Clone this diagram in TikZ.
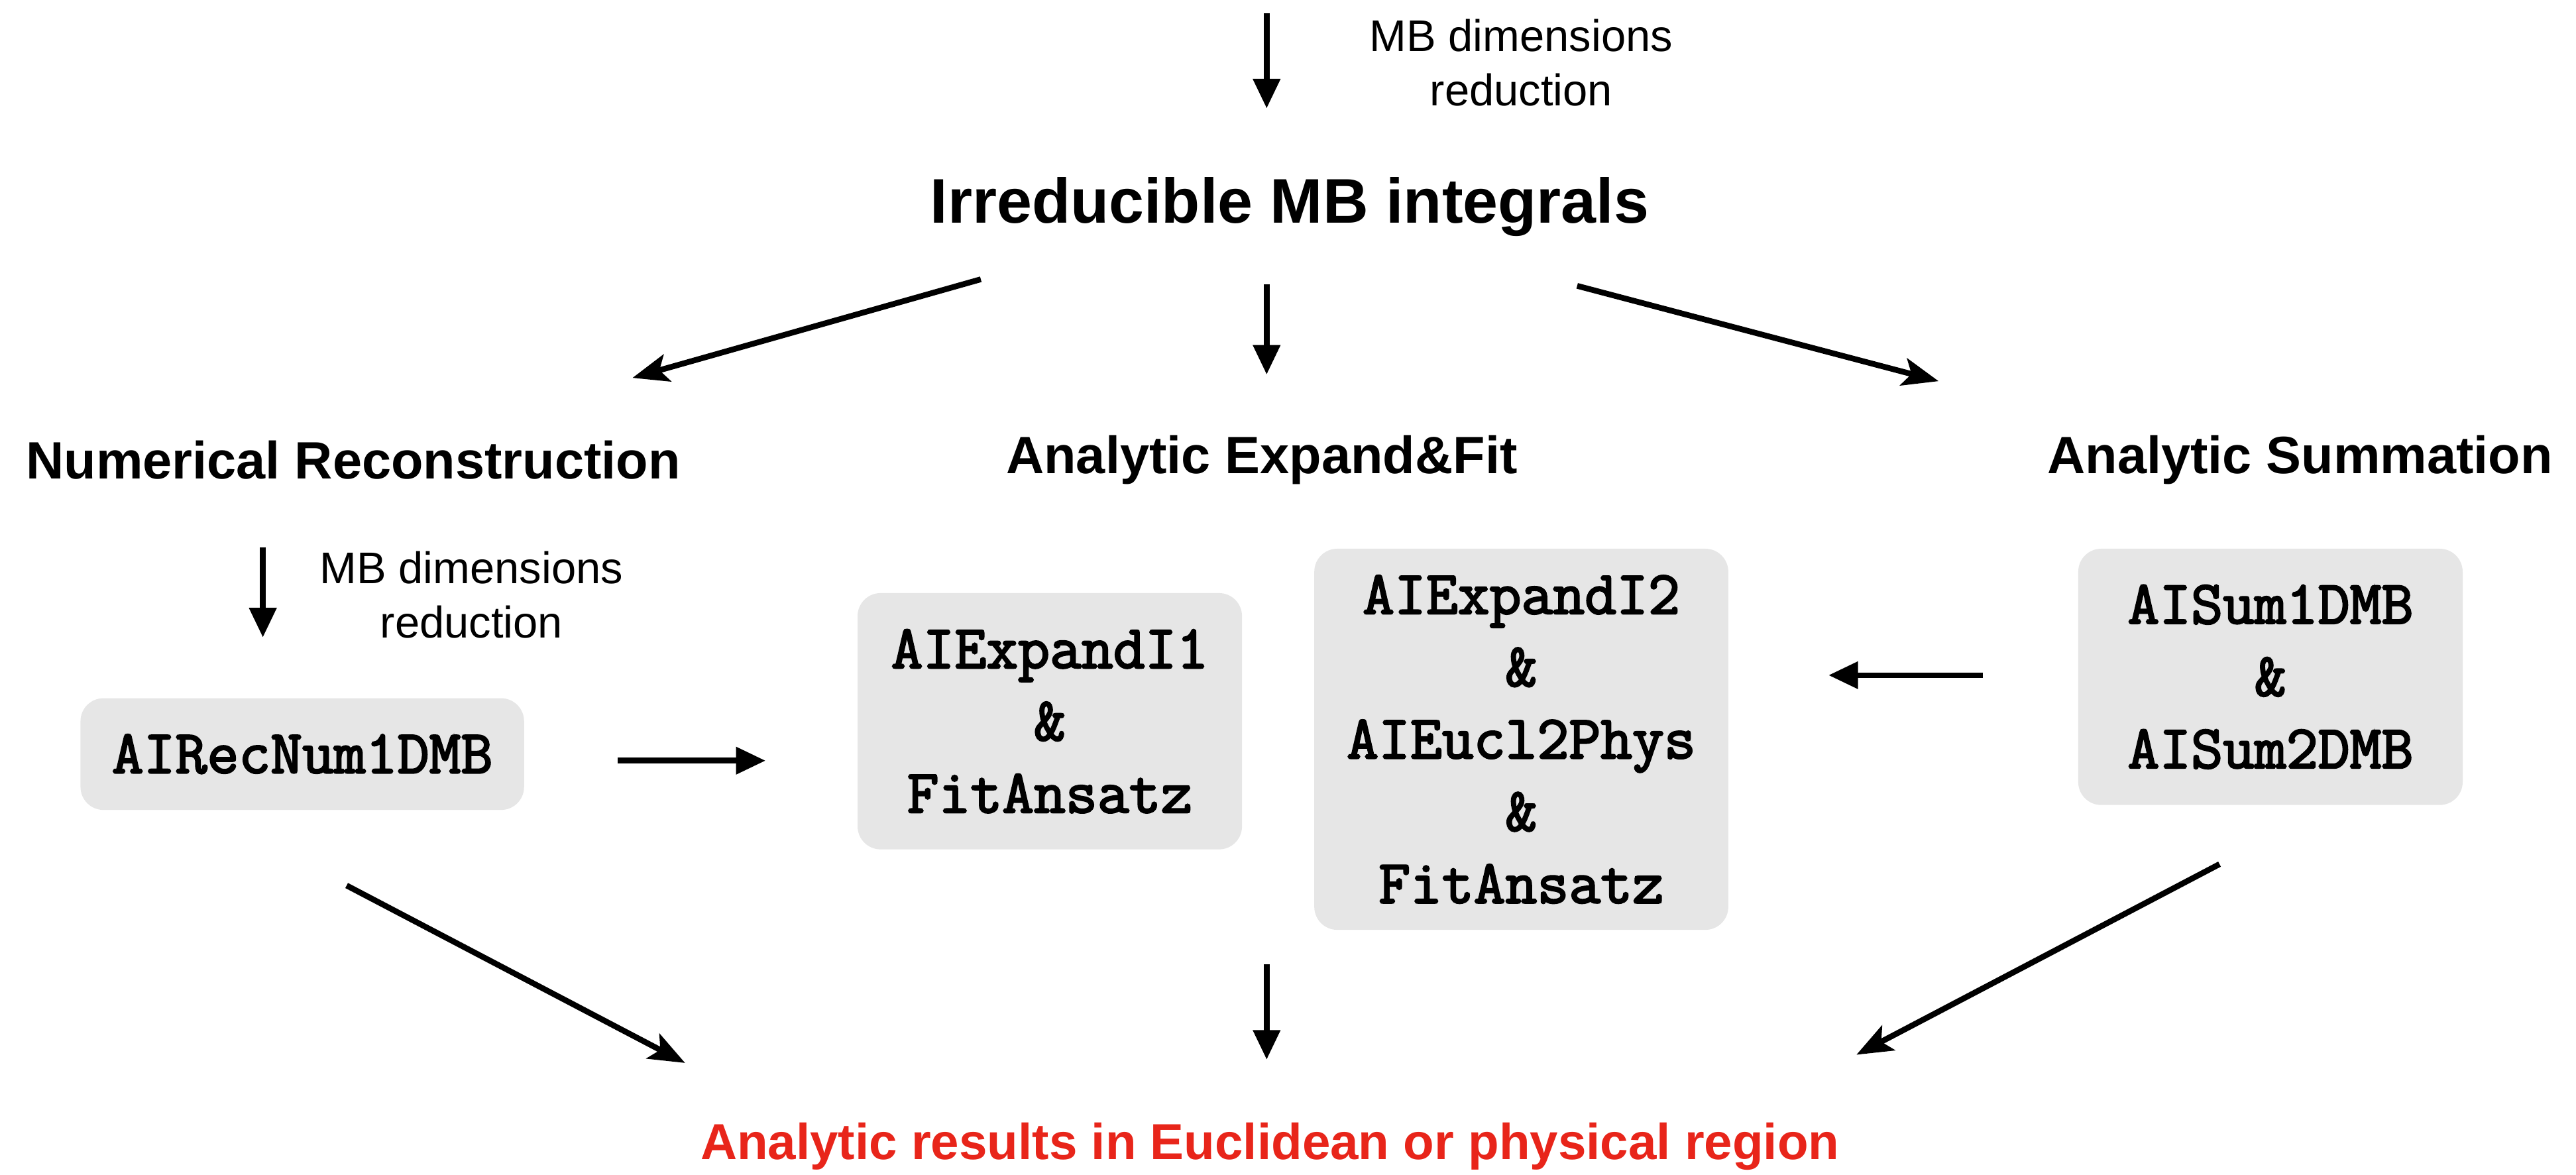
\documentclass[tikz,border=0pt]{standalone}
\usepackage{fontspec}
\setmainfont{Liberation Sans}
\setmonofont[AutoFakeBold=2.8]{Latin Modern Mono}
\usetikzlibrary{arrows.meta}
\definecolor{boxgray}{RGB}{230,230,230}
\definecolor{resred}{RGB}{232,37,26}
\begin{document}
\begin{tikzpicture}[x=1pt,y=-1pt,
  arr/.style={line width=3.5pt,-{Triangle[length=18pt,width=16pt]}},
  darr/.style={line width=3.5pt,-{Stealth[length=22pt,width=17pt,inset=5pt]}},
  codebox/.style={fill=boxgray,rounded corners=14pt,align=center,font=\ttfamily\bfseries\fontsize{37.5}{44}\selectfont,inner sep=0pt},
  head/.style={font=\bfseries\fontsize{32}{38}\selectfont},
  note/.style={align=center,font=\fontsize{27}{33}\selectfont}]
\useasboundingbox (0,0) rectangle (1568,715);

% texts
\node[note] (toplabel) at (926,38) {MB dimensions\\reduction};
\node[font=\bfseries\fontsize{38.4}{44}\selectfont] (title) at (785,126) {Irreducible MB integrals};
\node[head] (numrec) at (215,280) {Numerical Reconstruction};
\node[head] (expfit) at (768,280) {Analytic Expand\&Fit};
\node[head] (sumh) at (1400,280) {Analytic Summation};
\node[note] (leftlabel) at (287,362) {MB dimensions\\reduction};
\node[font=\bfseries\fontsize{30.8}{36}\selectfont,text=resred] (result) at (773,698) {Analytic results in Euclidean or physical region};

% boxes
\node[codebox,minimum width=270pt,minimum height=68pt] (recnum) at (184,459) {AIRecNum1DMB};
\node[codebox,minimum width=234pt,minimum height=156pt] (exp1) at (639,439) {AIExpandI1\\\&\\FitAnsatz};
\node[codebox,minimum width=252pt,minimum height=232pt] (exp2) at (926,450) {AIExpandI2\\\&\\AIEucl2Phys\\\&\\FitAnsatz};
\node[codebox,minimum width=234pt,minimum height=156pt] (sumbox) at (1382,412) {AISum1DMB\\\&\\AISum2DMB};

% arrow end points
\coordinate (t0) at (771,8);    \coordinate (t1) at (771,66);
\coordinate (l0) at (597,170);  \coordinate (l1) at (385,230);
\coordinate (m0) at (771,173);  \coordinate (m1) at (771,228);
\coordinate (r0) at (960,174);  \coordinate (r1) at (1180,232);
\coordinate (s0) at (160,333);  \coordinate (s1) at (160,388);
\coordinate (h0) at (376,463);  \coordinate (h1) at (466,463);
\coordinate (k0) at (1207,411); \coordinate (k1) at (1113,411);
\coordinate (b0) at (211,539);  \coordinate (b1) at (417,647);
\coordinate (c0) at (771,587);  \coordinate (c1) at (771,645);
\coordinate (d0) at (1351,526); \coordinate (d1) at (1130,642);

\draw[arr] (t0) -- (t1);
\draw[darr] (l0) -- (l1);
\draw[arr] (m0) -- (m1);
\draw[darr] (r0) -- (r1);
\draw[arr] (s0) -- (s1);
\draw[arr] (h0) -- (h1);
\draw[arr] (k0) -- (k1);
\draw[darr] (b0) -- (b1);
\draw[arr] (c0) -- (c1);
\draw[darr] (d0) -- (d1);
\end{tikzpicture}
\end{document}
